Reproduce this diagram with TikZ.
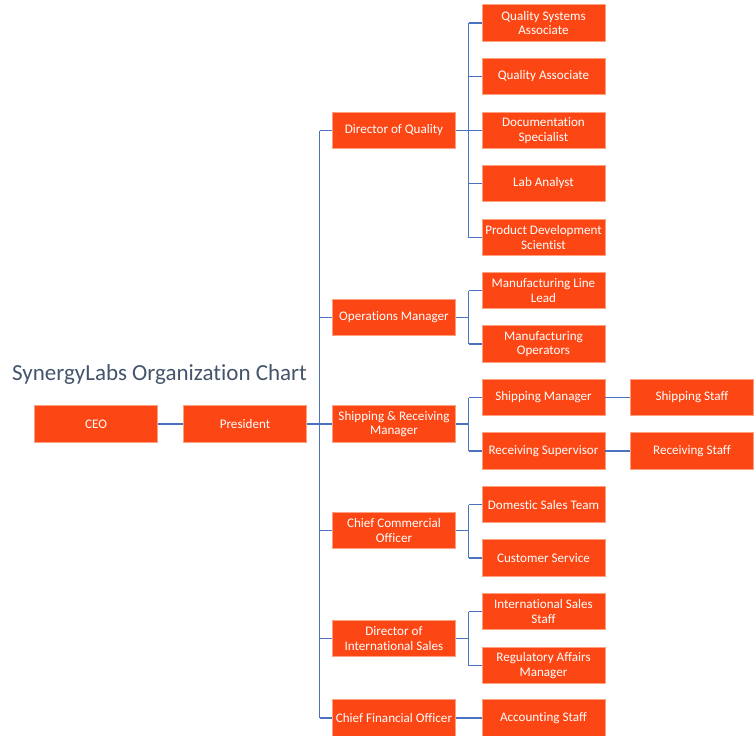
\documentclass[tikz,border=0pt]{standalone}
\usepackage{fontspec}
\setmainfont[Ligatures=NoCommon]{Carlito}
\definecolor{boxorange}{HTML}{FC4614}
\definecolor{boxedge}{HTML}{FDA080}
\definecolor{linkblue}{HTML}{4A72C0}
\definecolor{titleblue}{HTML}{44546A}
\begin{document}
\begin{tikzpicture}[x=1pt,y=-1pt,
  orgbox/.style={fill=boxorange, draw=boxedge, line width=0.6pt,
    minimum width=123pt, minimum height=36.5pt, text=white, align=center,
    font=\fontsize{13.1}{14.2}\selectfont, inner sep=1pt},
  link/.style={draw=linkblue, line width=1.1pt}]
\useasboundingbox (0,0) rectangle (756,736);
\node[anchor=west, inner sep=0pt, text=titleblue, font=\fontsize{23}{27}\selectfont] (title) at (12,374.5) {SynergyLabs Organization Chart};
% level 0/1
\node[orgbox] (ceo) at (96,424) {CEO};
\node[orgbox] (pres) at (245,424) {President};
% level 2
\node[orgbox] (dq) at (394,130.5) {Director of Quality};
\node[orgbox] (om) at (394,317.5) {Operations Manager};
\node[orgbox] (srm) at (394,424) {Shipping \& Receiving\\Manager};
\node[orgbox] (cco) at (394,530.5) {Chief Commercial\\Officer};
\node[orgbox] (dis) at (394,638.5) {Director of\\International Sales};
\node[orgbox] (cfo) at (394,718) {Chief Financial Officer};
% level 3
\node[orgbox] (qsa) at (543.5,23) {Quality Systems\\Associate};
\node[orgbox] (qa) at (543.5,76.5) {Quality Associate};
\node[orgbox] (ds) at (543.5,130.5) {Documentation\\Specialist};
\node[orgbox] (la) at (543.5,183.5) {Lab Analyst};
\node[orgbox] (pds) at (543.5,237.5) {Product Development\\Scientist};
\node[orgbox] (mll) at (543.5,290.5) {Manufacturing Line\\Lead};
\node[orgbox] (mo) at (543.5,344) {Manufacturing\\Operators};
\node[orgbox] (sm) at (543.5,397.5) {Shipping Manager};
\node[orgbox] (rs) at (543.5,451) {Receiving Supervisor};
\node[orgbox] (dst) at (543.5,504.5) {Domestic Sales Team};
\node[orgbox] (cs) at (543.5,558) {Customer Service};
\node[orgbox] (iss) at (543.5,611.5) {International Sales\\Staff};
\node[orgbox] (ram) at (543.5,665.5) {Regulatory Affairs\\Manager};
\node[orgbox] (acc) at (543.5,718) {Accounting Staff};
% level 4
\node[orgbox] (ss) at (692,397.5) {Shipping Staff};
\node[orgbox] (rst) at (692,451) {Receiving Staff};
% connectors
\draw[link] (ceo) -- (pres);
\draw[link] (pres.east) -- ++(13,0) coordinate (pbus);
\foreach \n in {dq,om,srm,cco,dis,cfo}
  \draw[link] (pbus |- \n.west) -- (\n.west);
\draw[link] (pbus |- dq.west) -- (pbus |- cfo.west);
% Director of Quality group
\draw[link] (dq.east) -- ++(13,0) coordinate (qbus);
\draw[link] (qbus |- qsa.west) -- (qbus |- pds.west);
\foreach \n in {qsa,qa,ds,la,pds}
  \draw[link] (qbus |- \n.west) -- (\n.west);
% Operations
\draw[link] (om.east) -- ++(13,0) coordinate (obus);
\draw[link] (obus |- mll.west) -- (obus |- mo.west);
\foreach \n in {mll,mo}
  \draw[link] (obus |- \n.west) -- (\n.west);
% Shipping & Receiving
\draw[link] (srm.east) -- ++(13,0) coordinate (sbus);
\draw[link] (sbus |- sm.west) -- (sbus |- rs.west);
\foreach \n in {sm,rs}
  \draw[link] (sbus |- \n.west) -- (\n.west);
\draw[link] (sm) -- (ss);
\draw[link] (rs) -- (rst);
% Commercial
\draw[link] (cco.east) -- ++(13,0) coordinate (cbus);
\draw[link] (cbus |- dst.west) -- (cbus |- cs.west);
\foreach \n in {dst,cs}
  \draw[link] (cbus |- \n.west) -- (\n.west);
% International
\draw[link] (dis.east) -- ++(13,0) coordinate (ibus);
\draw[link] (ibus |- iss.west) -- (ibus |- ram.west);
\foreach \n in {iss,ram}
  \draw[link] (ibus |- \n.west) -- (\n.west);
% Finance
\draw[link] (cfo) -- (acc);
\end{tikzpicture}
\end{document}
